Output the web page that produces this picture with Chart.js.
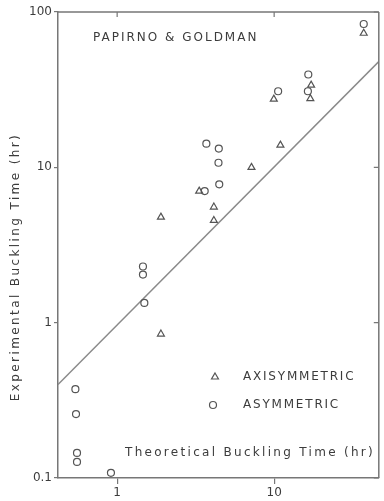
<!DOCTYPE html>
<html>
<head>
<meta charset="utf-8">
<script src="https://cdn.jsdelivr.net/npm/chart.js@4.4.1/dist/chart.umd.min.js"></script>
<style>
html,body{margin:0;padding:0;background:#fff;}
#wrap{width:384px;height:501px;position:relative;}
</style>
</head>
<body>
<div id="wrap"><canvas id="c"></canvas></div>
<script>
// Axisymmetric buckling (triangles)
const axiX = [37.2, 17.2, 17.0, 9.95, 10.96, 7.17, 3.33, 4.13, 4.13, 1.90, 1.90];
const axiY = [73, 33.8, 27.7, 27.5, 13.9, 10.0, 7.03, 5.55, 4.55, 4.78, 0.845];
// Asymmetric buckling (circles)
const asyX = [37.2, 16.5, 16.4, 10.6, 3.70, 4.44, 4.42, 4.47, 3.61, 1.46, 1.46, 1.49, 0.542, 0.547, 0.555, 0.555, 0.913];
const asyY = [83.7, 39.6, 30.9, 30.9, 14.2, 13.2, 10.7, 7.77, 7.03, 2.30, 2.04, 1.34, 0.373, 0.258, 0.145, 0.127, 0.108];
// Reference line
const fitX = [0.42, 46.4];
const fitY = [0.40, 48];
// Ticks
const xTickVals = [1, 10];
const xTickLabels = ['1', '10'];
const yTickVals = [0.1, 1, 10, 100];
const yTickLabels = ['0.1', '1', '10', '100'];
const xRange = [0.42, 46.4];
const yRange = [0.1, 100];

const INK = '#3c3c3c';
const LINE = '#777777';
const FONT = '"DejaVu Sans", sans-serif';

const pts = (xs, ys) => xs.map((x, i) => ({x, y: ys[i]}));

const decor = {
  id: 'decor',
  afterDatasetsDraw(chart) {
    const ctx = chart.ctx, a = chart.chartArea;
    const xs = chart.scales.x, ys = chart.scales.y;
    ctx.save();
    ctx.strokeStyle = LINE;
    ctx.lineWidth = 1.5;
    ctx.beginPath();
    ctx.moveTo(a.left, a.top); ctx.lineTo(a.right, a.top);
    ctx.moveTo(a.right, a.top); ctx.lineTo(a.right, a.bottom);
    ctx.stroke();
    ctx.lineWidth = 1.2;
    ctx.beginPath();
    xTickVals.forEach(v => { const p = xs.getPixelForValue(v); ctx.moveTo(p, a.top); ctx.lineTo(p, a.top + 5); });
    yTickVals.forEach(v => { const p = ys.getPixelForValue(v); ctx.moveTo(a.right, p); ctx.lineTo(a.right - 5, p); });
    ctx.stroke();

    ctx.fillStyle = INK;
    ctx.textBaseline = 'middle';
    ctx.font = '12px ' + FONT;
    ctx.letterSpacing = '2px';
    ctx.textAlign = 'left';
    ctx.fillText('PAPIRNO & GOLDMAN', 93, 38);
    ctx.letterSpacing = '2.3px';
    ctx.fillText('Theoretical Buckling Time (hr)', 125, 453);
    ctx.letterSpacing = '1.8px';
    ctx.fillText('AXISYMMETRIC', 243, 377);
    ctx.fillText('ASYMMETRIC', 243, 405);

    // legend markers
    ctx.save();
    ctx.strokeStyle = '#555';
    ctx.fillStyle = 'rgba(0,0,0,0)';
    ctx.lineWidth = 1.2;
    Chart.helpers.drawPoint(ctx, {pointStyle: 'triangle', radius: 4, rotation: 0, borderWidth: 1.2}, 215, 377);
    Chart.helpers.drawPoint(ctx, {pointStyle: 'circle', radius: 3.5, rotation: 0, borderWidth: 1.2}, 213, 405);
    ctx.restore();

    // y title
    ctx.save();
    ctx.translate(16, 267);
    ctx.rotate(-Math.PI / 2);
    ctx.textAlign = 'center';
    ctx.letterSpacing = '2.4px';
    ctx.fillStyle = INK;
    ctx.fillText('Experimental Buckling Time (hr)', 0, 0);
    ctx.restore();
    ctx.restore();
  }
};

new Chart(document.getElementById('c'), {
  type: 'scatter',
  data: {
    datasets: [
      {
        type: 'line', data: pts(fitX, fitY), borderColor: '#8a8a8a', borderWidth: 1.5,
        pointRadius: 0, fill: false, tension: 0, order: 3
      },
      {
        data: pts(axiX, axiY), pointStyle: 'triangle', pointRadius: 4,
        backgroundColor: 'rgba(0,0,0,0)', borderColor: '#555', pointBorderWidth: 1.2, order: 1
      },
      {
        data: pts(asyX, asyY), pointStyle: 'circle', pointRadius: 3.5,
        backgroundColor: 'rgba(0,0,0,0)', borderColor: '#555', pointBorderWidth: 1.2, order: 2
      }
    ]
  },
  options: {
    responsive: true,
    maintainAspectRatio: false,
    animation: false,
    layout: {padding: {top: 12, right: 1, left: 0, bottom: 0}},
    plugins: {legend: {display: false}, tooltip: {enabled: false}},
    scales: {
      x: {
        type: 'logarithmic', min: xRange[0], max: xRange[1],
        afterBuildTicks: s => { s.ticks = xTickVals.map(v => ({value: v})); },
        afterFit: s => { s.height = 23; },
        ticks: {
          autoSkip: false, maxRotation: 0, padding: 2, color: INK,
          font: {family: FONT, size: 12},
          callback: v => xTickLabels[xTickVals.indexOf(v)]
        },
        grid: {display: true, drawOnChartArea: false, drawTicks: true, tickLength: 6, color: LINE, lineWidth: 1.2},
        border: {display: true, color: LINE, width: 1.5}
      },
      y: {
        type: 'logarithmic', min: yRange[0], max: yRange[1],
        afterBuildTicks: s => { s.ticks = yTickVals.map(v => ({value: v})); },
        afterFit: s => { s.width = 58; },
        ticks: {
          autoSkip: false, padding: 2, color: INK,
          font: {family: FONT, size: 12},
          callback: v => yTickLabels[yTickVals.indexOf(v)]
        },
        grid: {display: true, drawOnChartArea: false, drawTicks: true, tickLength: 4, color: LINE, lineWidth: 1.2},
        border: {display: true, color: LINE, width: 1.5}
      }
    }
  },
  plugins: [decor]
});
</script>
</body>
</html>
